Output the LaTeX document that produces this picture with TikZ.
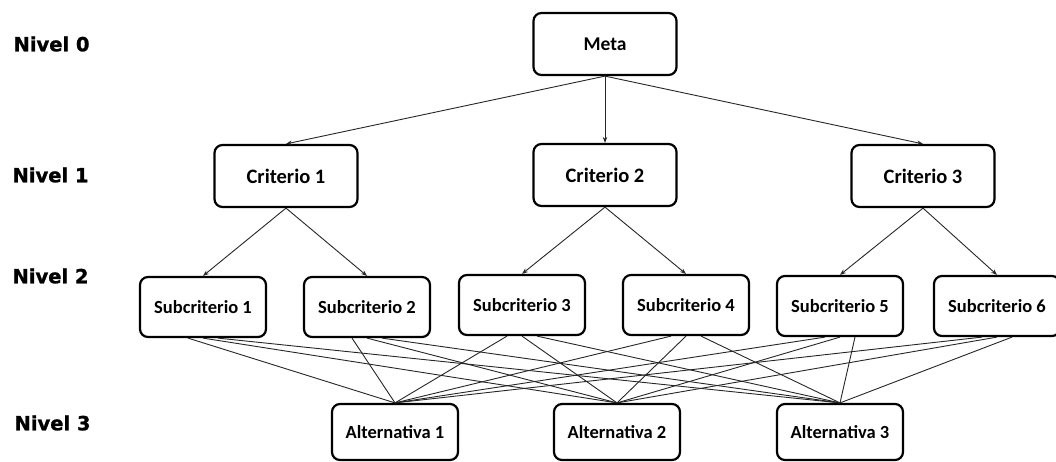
\documentclass[tikz,border=0pt]{standalone}
\usepackage{fontspec}
\setmainfont{Carlito}
\newfontfamily\levelfont[FakeBold=1.2]{DejaVu Sans}
\usetikzlibrary{arrows.meta}

\begin{document}
\begin{tikzpicture}[x=1pt,y=-1pt,
  box/.style={draw, line width=2.2pt, rounded corners=8pt, inner sep=0pt,
    font=\bfseries\fontsize{18.5}{22}\selectfont},
  crit/.style={box, minimum width=143, minimum height=62,
    font=\bfseries\fontsize{20.5}{24}\selectfont},
  sub/.style={box, minimum width=126, minimum height=60},
  level/.style={anchor=west, font=\levelfont\bfseries\fontsize{19.5}{24}\selectfont},
  arr/.style={-{Stealth[length=6pt,width=4.5pt]}, line width=0.9pt, black!85},
  link/.style={line width=0.9pt, black!85}]
  \useasboundingbox (0,0) rectangle (1056,461);

  % levels
  \node[level] (n0) at (10,44) {Nivel 0};
  \node[level] (n1) at (9,175) {Nivel 1};
  \node[level] (n2) at (9,276) {Nivel 2};
  \node[level] (n3) at (11,423) {Nivel 3};

  \node[crit, font=\bfseries\fontsize{19.5}{24}\selectfont] (meta) at (605,44) {Meta};

  \node[crit] (c1) at (286,176) {Criterio 1};
  \node[crit] (c2) at (605,175) {Criterio 2};
  \node[crit] (c3) at (923,176) {Criterio 3};

  \node[sub] (s1) at (203,307) {Subcriterio 1};
  \node[sub] (s2) at (367,307) {Subcriterio 2};
  \node[sub] (s3) at (522,305) {Subcriterio 3};
  \node[sub] (s4) at (686,305) {Subcriterio 4};
  \node[sub] (s5) at (840,306) {Subcriterio 5};
  \node[sub] (s6) at (997,306) {Subcriterio 6};

  \node[sub, minimum height=56] (a1) at (395,432) {Alternativa 1};
  \node[sub, minimum height=56] (a2) at (617,432) {Alternativa 2};
  \node[sub, minimum height=56] (a3) at (840,432) {Alternativa 3};

  \draw[arr] (meta.south) -- (c1.north);
  \draw[arr] (meta.south) -- (c2.north);
  \draw[arr] (meta.south) -- (c3.north);

  \draw[arr] (c1.south) -- (s1.north);
  \draw[arr] (c1.south) -- (s2.north);
  \draw[arr] (c2.south) -- (s3.north);
  \draw[arr] (c2.south) -- (s4.north);
  \draw[arr] (c3.south) -- (s5.north);
  \draw[arr] (c3.south) -- (s6.north);

  % every subcriterio to every alternativa
  \foreach \s in {s1,s2,s3,s4,s5,s6}
    \foreach \a/\dx in {a1/-15,a2/0,a3/15}
      \draw[link] ([xshift=\dx]\s.south) -- (\a.north);
\end{tikzpicture}
\end{document}
